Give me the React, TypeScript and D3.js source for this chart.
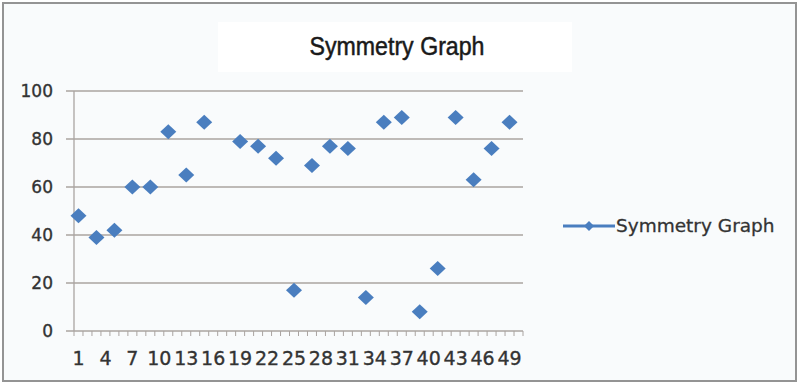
import React from "react";
import * as d3 from "d3";

const categories: string[] = [
  "1","2","3","4","5","6","7","8","9","10","11","12","13","14","15","16","17","18","19","20",
  "21","22","23","24","25","26","27","28","29","30","31","32","33","34","35","36","37","38","39","40",
  "41","42","43","44","45","46","47","48","49","50",
];
const values: (number | null)[] = [
  48, null, 39, null, 42, null, 60, null, 60, null,
  83, null, 65, null, 87, null, null, null, 79, null,
  77, null, 72, null, 17, null, 69, null, 77, null,
  76, null, 14, null, 87, null, 89, null, 8, null,
  26, null, 89, null, 63, null, 76, null, 87, null,
];
const xTickLabels: string[] = ["1","4","7","10","13","16","19","22","25","28","31","34","37","40","43","46","49"];
const yTicks: number[] = [0, 20, 40, 60, 80, 100];
const title = "Symmetry Graph";
const seriesName = "Symmetry Graph";

const W = 799, H = 383;
const plot = { left: 74, right: 523, top: 91, bottom: 331 };
const blue = "#4a7ebf";
const gridColor = "#aaa4a1";
const font = "'DejaVu Sans', sans-serif";
const textColor = "#333";

export default function App() {
  const x = d3.scaleBand<string>().domain(categories).range([plot.left, plot.right]).padding(0);
  const y = d3.scaleLinear().domain([0, 100]).range([plot.bottom, plot.top]);
  const bw = x.bandwidth();
  const diamond = "M0,-7.5L8,0L0,7.5L-8,0Z";

  return (
    <svg width={W} height={H} style={{ position: "absolute", left: 0, top: 0 }}>
      <rect x={0} y={0} width={W} height={H} fill="#ffffff" />
      <rect x={3} y={3} width={793} height={378} fill="#f9fbfc" stroke="#949494" strokeWidth={2} />
      <rect x={218} y={22} width={354} height={50} fill="#ffffff" />
      <text x={397} y={55} textAnchor="middle" fontFamily="'Liberation Sans', Arial, sans-serif" fontSize={25}
        fill="#1a1a1a" stroke="#1a1a1a" strokeWidth={0.5} textLength={175} lengthAdjust="spacingAndGlyphs">{title}</text>

      {yTicks.map((t) => (
        <g key={t}>
          <line x1={plot.left - 8} x2={plot.right} y1={y(t)} y2={y(t)} stroke={gridColor} strokeWidth={1.3} />
          <text x={53} y={y(t) + 6} textAnchor="end" fontFamily={font} fontSize={17} fill={textColor}
            stroke={textColor} strokeWidth={0.35}>{t}</text>
        </g>
      ))}
      <line x1={plot.left} x2={plot.left} y1={plot.top} y2={plot.bottom} stroke={gridColor} strokeWidth={1.3} />
      {categories.concat(["end"]).map((c, i) => {
        const xx = plot.left + i * bw;
        return <line key={"t" + i} x1={xx} x2={xx} y1={plot.bottom} y2={plot.bottom + 5} stroke={gridColor} strokeWidth={1} />;
      })}
      {xTickLabels.map((l) => (
        <text key={"xl" + l} x={(x(l) as number) + bw / 2} y={365} textAnchor="middle" fontFamily={font}
          fontSize={19} fill={textColor} stroke={textColor} strokeWidth={0.35}>{l}</text>
      ))}

      {values.map((v, i) =>
        v === null ? null : (
          <path key={"p" + i} d={diamond}
            transform={`translate(${(x(categories[i]) as number) + bw / 2},${y(v)})`} fill={blue} />
        )
      )}

      <line x1={563} x2={615} y1={226} y2={226} stroke={blue} strokeWidth={3} />
      <path d="M0,-5L5,0L0,5L-5,0Z" transform="translate(589,226)" fill={blue} />
      <text x={616} y={232} fontFamily={font} fontSize={18.5} fill={textColor}
        stroke={textColor} strokeWidth={0.3}>{seriesName}</text>
    </svg>
  );
}
